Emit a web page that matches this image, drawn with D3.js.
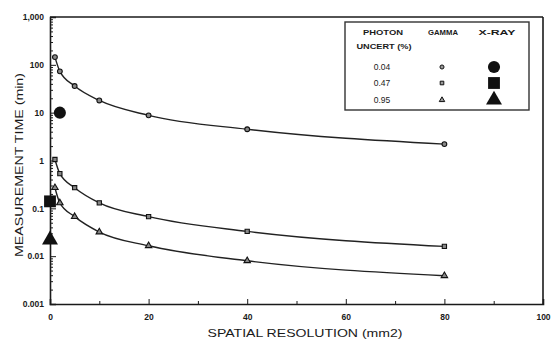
<!DOCTYPE html>
<meta charset="utf-8">
<style>
body { margin: 0; background: #fff; }
text { font-family: "Liberation Sans", Arial, sans-serif; fill: #1a1a1a; }
.axis path, .axis line { stroke: #1a1a1a; }
.axis text { font-size: 8.5px; font-weight: bold; fill: #1a1a1a; }
</style>
<svg width="552" height="341"></svg>
<script src="https://d3js.org/d3.v7.min.js"></script>
<script>

// spatial resolution (mm2) of the gamma points
var resolution = [1, 2, 5, 10, 20, 40, 80];
// measurement time (min) for each photon uncertainty, gamma
var gamma004 = [145, 73, 36, 18, 8.8, 4.5, 2.2];
var gamma047 = [1.05, 0.53, 0.27, 0.13, 0.067, 0.033, 0.016];
var gamma095 = [0.27, 0.13, 0.067, 0.032, 0.0165, 0.008, 0.0039];
// x-ray points
var xrayX = [2, 0, 0];
var xrayY = [10, 0.14, 0.022];
var uncertLabels = ["0.04", "0.47", "0.95"];
var yTickLabels = ["0.001", "0.01", "0.1", "1", "10", "100", "1,000"];
var xTicks = [0, 20, 40, 60, 80, 100];

var svg = d3.select("svg");
var x = d3.scaleLinear().domain([0, 100]).range([50, 543]);
var y = d3.scaleLog().domain([0.001, 1000]).range([304, 17]);

var shapes = [d3.symbolCircle, d3.symbolSquare, d3.symbolTriangle];
var series = [gamma004, gamma047, gamma095];

// frame
svg.append("line").attr("x1", x(0)).attr("x2", x(100)).attr("y1", y(1000)).attr("y2", y(1000))
    .attr("stroke", "#1a1a1a").attr("stroke-width", 1.6);
svg.append("line").attr("x1", x(100)).attr("x2", x(100)).attr("y1", y(1000)).attr("y2", y(0.001))
    .attr("stroke", "#1a1a1a").attr("stroke-width", 1.6);

// x axis
var xAxis = svg.append("g").attr("class", "axis")
    .attr("transform", "translate(0," + y(0.001) + ")")
    .call(d3.axisBottom(x).tickValues(xTicks).tickSize(-5).tickPadding(10).tickFormat(d3.format("d")));
xAxis.select(".domain").attr("stroke-width", 1.6);
svg.append("g").attr("class", "axis")
    .attr("transform", "translate(0," + y(0.001) + ")")
    .call(d3.axisBottom(x).tickValues([10, 30, 50, 70, 90]).tickSize(-3).tickFormat(""))
    .select(".domain").remove();

// y axis
var decades = [0.001, 0.01, 0.1, 1, 10, 100, 1000];
var yAxis = svg.append("g").attr("class", "axis")
    .attr("transform", "translate(" + x(0) + ",0)")
    .call(d3.axisLeft(y).tickValues(decades).tickSize(-6).tickPadding(6)
      .tickFormat(function(d, i) { return yTickLabels[i]; }));
yAxis.select(".domain").attr("stroke-width", 1.6);
var minor = [];
decades.slice(0, 6).forEach(function(d) {
  for (var k = 2; k < 10; k++) minor.push(d * k);
});
svg.append("g").attr("class", "axis")
    .attr("transform", "translate(" + x(0) + ",0)")
    .call(d3.axisLeft(y).tickValues(minor).tickSize(-3).tickFormat(""))
    .select(".domain").remove();

// axis titles
svg.append("text").attr("x", 305).attr("y", 337).attr("text-anchor", "middle")
    .attr("textLength", 195).attr("lengthAdjust", "spacingAndGlyphs")
    .style("font-size", "11.5px").text("SPATIAL RESOLUTION (mm2)");
svg.append("text").attr("transform", "translate(23,165) rotate(-90)").attr("text-anchor", "middle")
    .attr("textLength", 184).attr("lengthAdjust", "spacingAndGlyphs")
    .style("font-size", "11.5px").text("MEASUREMENT TIME (min)");

// gamma curves
var line = d3.line()
    .x(function(d) { return x(d[0]); })
    .y(function(d) { return y(d[1]); })
    .curve(d3.curveMonotoneX);

series.forEach(function(vals, i) {
  var pts = resolution.map(function(r, j) { return [r, vals[j]]; });
  svg.append("path").datum(pts).attr("d", line)
      .attr("fill", "none").attr("stroke", "#222").attr("stroke-width", 1.4);
  svg.append("g").selectAll("path").data(pts).enter().append("path")
      .attr("transform", function(d) { return "translate(" + x(d[0]) + "," + y(d[1]) + ")"; })
      .attr("d", d3.symbol().type(shapes[i]).size(18))
      .attr("fill", "#888").attr("stroke", "#111").attr("stroke-width", 1.1);
});

// x-ray points
var bigSize = [115, 140, 110];
svg.append("g").selectAll("path").data(xrayX).enter().append("path")
    .attr("transform", function(d, i) { return "translate(" + x(d) + "," + y(xrayY[i]) + ")"; })
    .attr("d", function(d, i) { return d3.symbol().type(shapes[i]).size(bigSize[i])(); })
    .attr("fill", "#111");

// legend
var lg = svg.append("g").style("font-weight", "bold").style("font-size", "8px");
lg.append("rect").attr("x", 345).attr("y", 22).attr("width", 184).attr("height", 88)
    .attr("fill", "#fff").attr("stroke", "#333").attr("stroke-width", 1.4);
var heads = [["PHOTON", 383, 35, 40], ["UNCERT (%)", 384, 49, 55], ["GAMMA", 443, 35, 30], ["X-RAY", 497, 35, 37]];
heads.forEach(function(h) {
  lg.append("text").attr("x", h[1]).attr("y", h[2]).attr("text-anchor", "middle")
      .attr("textLength", h[3]).attr("lengthAdjust", "spacingAndGlyphs").text(h[0]);
});
var rowY = [67, 83, 100];
uncertLabels.forEach(function(t, i) {
  lg.append("text").attr("x", 382).attr("y", rowY[i] + 3).attr("text-anchor", "middle")
      .style("font-size", "8.5px").style("font-weight", "normal").text(t);
  lg.append("path").attr("transform", "translate(442," + rowY[i] + ")")
      .attr("d", d3.symbol().type(shapes[i]).size(13))
      .attr("fill", "#999").attr("stroke", "#111").attr("stroke-width", 1);
  lg.append("path").attr("transform", "translate(494," + rowY[i] + ")")
      .attr("d", d3.symbol().type(shapes[i]).size(bigSize[i]))
      .attr("fill", "#111");
});

</script>
